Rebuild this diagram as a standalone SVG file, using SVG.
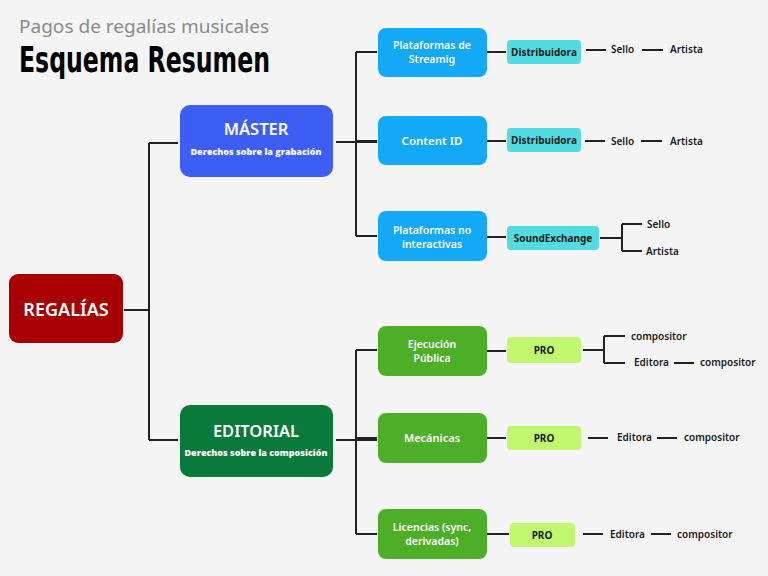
<svg xmlns="http://www.w3.org/2000/svg" width="768" height="576" viewBox="0 0 768 576">
<defs>
<style>
.bg{fill:#f4f4f4}
.ln{fill:none;stroke:#222;stroke-width:2}
.t{font-family:"Noto Sans","Open Sans",sans-serif;text-anchor:middle}
.w{fill:#fff;font-weight:600}
.d{fill:#1a1a1a;font-weight:700;font-size:10px}
.lbl{font-family:"Noto Sans","Open Sans",sans-serif;fill:#1a1a1a;font-weight:600;font-size:10px}
.sub{font-family:"Open Sans","Noto Sans",sans-serif;fill:#fff;font-weight:800;font-size:9px;text-anchor:middle}
.blue{fill:#14a9f6}
.green{fill:#4caf27}
.cyan{fill:#52dbe0}
.lime{fill:#c1f76f}
</style>
</defs>
<rect class="bg" x="0" y="0" width="768" height="576"/>
<g id="title">
<text x="19" y="33" font-family="Noto Sans, sans-serif" font-size="18" fill="#8a8a8a" textLength="250" lengthAdjust="spacingAndGlyphs">Pagos de regalías musicales</text>
<text x="19" y="72" font-family="DejaVu Sans Condensed, DejaVu Sans, sans-serif" font-weight="700" font-size="35" fill="#000" textLength="251" lengthAdjust="spacingAndGlyphs">Esquema Resumen</text>
</g>
<g id="connectors">
<path class="ln" d="M124 310H149M149 143V440M149 143H178M149 440H178"/>
<path class="ln" d="M336 142H377M356 52V236M356 52H377M356 141H377M356 236H377"/>
<path class="ln" d="M336 440H377M356 350V534M356 350H377M356 438H377M356 534H377"/>
<path class="ln" d="M487 52H506M487 141H506M487 237H506M487 351H506M487 438H506M487 534H509"/>
<path class="ln" d="M586 50H606M642 50H663M585 141H605M641 141H662"/>
<path class="ln" d="M600 238H622M622 224V251M622 224H642M622 251H642"/>
<path class="ln" d="M583 350H604M604 336V363M604 336H625M604 363H625M674 363H694"/>
<path class="ln" d="M588 438H608M657 438H677M583 534H603M651 534H671"/>
</g>
<g id="regalias">
<rect x="9" y="274" width="114" height="69" rx="9" fill="#a80000"/>
<text class="t w" x="66" y="316" font-size="18" font-weight="500">REGALÍAS</text>
</g>
<g id="master">
<rect x="180" y="105" width="153" height="72" rx="10" fill="#3d5ef5"/>
<text class="t w" x="256" y="135" font-size="16.5" font-weight="500">MÁSTER</text>
<text class="sub" x="256" y="155">Derechos sobre la grabación</text>
</g>
<g id="editorial">
<rect x="180" y="405" width="153" height="72" rx="10" fill="#0a7a3a"/>
<text class="t w" x="256" y="437" font-size="16.5" font-weight="500">EDITORIAL</text>
<text class="sub" x="256" y="456">Derechos sobre la composición</text>
</g>
<g id="streaming">
<rect class="blue" x="378" y="28" width="109" height="49" rx="8"/>
<text class="t w" x="432" y="49" font-size="10.5">Plataformas de</text>
<text class="t w" x="432" y="63" font-size="10.5">Streamig</text>
</g>
<g id="contentid">
<rect class="blue" x="378" y="116" width="109" height="49" rx="8"/>
<text class="t w" x="432" y="145" font-size="11.5">Content ID</text>
</g>
<g id="nointeractivas">
<rect class="blue" x="378" y="211" width="109" height="50" rx="8"/>
<text class="t w" x="432" y="234" font-size="10.5">Plataformas no</text>
<text class="t w" x="432" y="248" font-size="10.5">interactivas</text>
</g>
<g id="distribuidora1">
<rect class="cyan" x="507" y="40" width="74" height="24" rx="4"/>
<text class="t d" x="544" y="56">Distribuidora</text>
</g>
<g id="distribuidora2">
<rect class="cyan" x="507" y="128" width="74" height="24" rx="4"/>
<text class="t d" x="544" y="144">Distribuidora</text>
</g>
<g id="soundexchange">
<rect class="cyan" x="507" y="226" width="92" height="24" rx="4"/>
<text class="t d" x="553" y="242">SoundExchange</text>
</g>
<g id="labels-master">
<text class="lbl" x="611" y="53">Sello</text>
<text class="lbl" x="670" y="53">Artista</text>
<text class="lbl" x="611" y="145">Sello</text>
<text class="lbl" x="670" y="145">Artista</text>
<text class="lbl" x="647" y="228">Sello</text>
<text class="lbl" x="646" y="255">Artista</text>
</g>
<g id="ejecucion">
<rect class="green" x="378" y="326" width="109" height="50" rx="8"/>
<text class="t w" x="432" y="348" font-size="10.5" font-weight="500">Ejecución</text>
<text class="t w" x="432" y="362" font-size="10.5" font-weight="500">Pública</text>
</g>
<g id="mecanicas">
<rect class="green" x="378" y="413" width="109" height="50" rx="8"/>
<text class="t w" x="432" y="442" font-size="11" font-weight="500">Mecánicas</text>
</g>
<g id="licencias">
<rect class="green" x="378" y="509" width="109" height="50" rx="8"/>
<text class="t w" x="432" y="531" font-size="10.5" font-weight="500">Licencias (sync,</text>
<text class="t w" x="432" y="545" font-size="10.5" font-weight="500">derivadas)</text>
</g>
<g id="pro1">
<rect class="lime" x="507" y="337" width="74" height="26" rx="4"/>
<text class="t d" x="544" y="354">PRO</text>
</g>
<g id="pro2">
<rect class="lime" x="507" y="426" width="74" height="24" rx="4"/>
<text class="t d" x="544" y="442">PRO</text>
</g>
<g id="pro3">
<rect class="lime" x="510" y="523" width="65" height="24" rx="4"/>
<text class="t d" x="542" y="539">PRO</text>
</g>
<g id="labels-editorial">
<text class="lbl" x="631" y="340">compositor</text>
<text class="lbl" x="634" y="366">Editora</text>
<text class="lbl" x="700" y="366">compositor</text>
<text class="lbl" x="617" y="441">Editora</text>
<text class="lbl" x="684" y="441">compositor</text>
<text class="lbl" x="610" y="538">Editora</text>
<text class="lbl" x="677" y="538">compositor</text>
</g>
</svg>
